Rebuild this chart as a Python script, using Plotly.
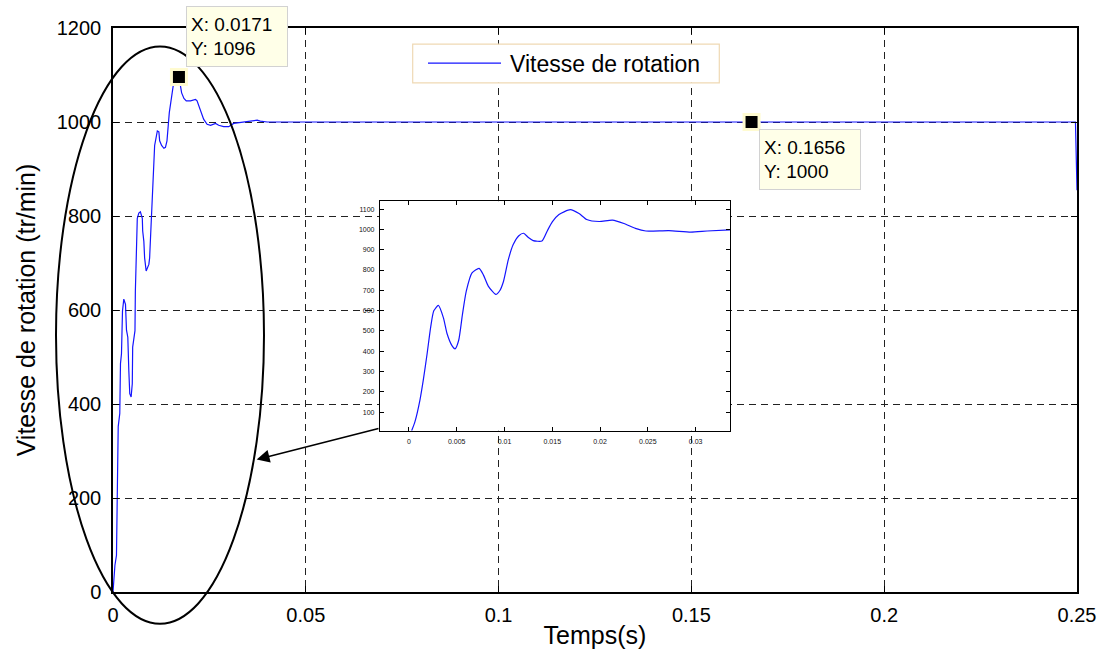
import plotly.graph_objects as go

# ---------------- data ----------------
# main curve: time (s) and speed (tr/min)
t_main = [0, 0.0005, 0.0009, 0.0011, 0.00125, 0.00135, 0.00176, 0.00194, 0.0022, 0.00246,
          0.0028, 0.00324, 0.0035, 0.00384, 0.0041, 0.00435, 0.0047, 0.005, 0.0051, 0.0057,
          0.0058, 0.006, 0.0063, 0.0067, 0.0071, 0.0076, 0.0077, 0.008, 0.0082, 0.0086,
          0.0093, 0.0095, 0.0097, 0.0102, 0.0104, 0.0108, 0.0115, 0.0119, 0.0121, 0.0126,
          0.0132, 0.0136, 0.014, 0.0143, 0.0146, 0.0151, 0.0153, 0.0156, 0.0171, 0.0175,
          0.0178, 0.0184, 0.019, 0.0201, 0.0214, 0.0218, 0.0223, 0.0227, 0.0235, 0.0244,
          0.0253, 0.0266, 0.0274, 0.0287, 0.03, 0.0313, 0.0339, 0.0361, 0.0374, 0.0382,
          0.04, 0.1656, 0.2496, 0.25]
v_main = [0, 57, 78, 198, 240, 352, 380, 486, 507, 598,
          623, 612, 557, 542, 472, 422, 415, 443, 521, 556,
          640, 711, 795, 806, 809, 795, 768, 746, 711, 683,
          697, 711, 753, 823, 893, 950, 981, 979, 960, 950,
          944, 946, 960, 992, 1020, 1048, 1062, 1076, 1096, 1076,
          1062, 1050, 1045, 1045, 1048, 1045, 1034, 1023, 1006, 995,
          993, 997, 993, 990, 990, 997, 1000, 1002, 1004, 1002,
          1000, 1000, 1000, 855]

# zoomed (inset) curve
t_zoom = [0.00028, 0.00063, 0.00115, 0.0015, 0.0019, 0.00227, 0.0026, 0.00308, 0.0036,
          0.004, 0.0045, 0.00483, 0.0052, 0.0056, 0.006, 0.0066, 0.00734, 0.0078, 0.0083,
          0.00909, 0.0095, 0.0099, 0.0104, 0.0109, 0.0115, 0.012, 0.0125, 0.013, 0.01392,
          0.0145, 0.015, 0.0157, 0.01689, 0.0178, 0.0186, 0.0199, 0.0213, 0.0225, 0.0237,
          0.0248, 0.0272, 0.0295, 0.0312, 0.0337]
v_zoom = [9, 54, 160, 258, 388, 518, 599, 626, 566,
          485, 428, 412, 453, 582, 696, 786, 808, 775, 721,
          680, 698, 745, 851, 924, 969, 981, 960, 945, 943,
          995, 1037, 1073, 1097, 1078, 1049, 1039, 1046, 1029, 1005,
          992, 994, 987, 992, 998]

# data tips
tip_x = [0.0171, 0.1656]
tip_y = [1096, 1000]

# ticks
main_xticks = [0, 0.05, 0.1, 0.15, 0.2, 0.25]
main_xlabels = ["0", "0.05", "0.1", "0.15", "0.2", "0.25"]
main_yticks = [0, 200, 400, 600, 800, 1000, 1200]
zoom_xticks = [0, 0.005, 0.01, 0.015, 0.02, 0.025, 0.03]
zoom_xlabels = ["0", "0.005", "0.01", "0.015", "0.02", "0.025", "0.03"]
zoom_yticks = [100, 200, 300, 400, 500, 600, 700, 800, 900, 1000, 1100]

# ---------------- layout helpers ----------------
W, H = 1108, 657
L, R, T, B = 113, 31, 28, 60
PW, PH = W - L - R, H - T - B


def px(xp):
    return (xp - L) / PW


def py(yp):
    return (H - B - yp) / PH


FONT = "Liberation Sans, Arial, sans-serif"
BLUE = "#1414ff"

fig = go.Figure()

fig.add_trace(go.Scatter(x=t_main, y=v_main, mode="lines", name="Vitesse de rotation",
                         line=dict(color=BLUE, width=1.2), xaxis="x", yaxis="y",
                         showlegend=False))
fig.add_trace(go.Scatter(x=tip_x, y=tip_y, mode="markers", showlegend=False,
                         marker=dict(symbol="square", size=15, color="black",
                                     line=dict(color="#fffbd0", width=3)),
                         xaxis="x", yaxis="y"))
fig.add_trace(go.Scatter(x=t_zoom, y=v_zoom, mode="lines", showlegend=False,
                         line=dict(color=BLUE, width=1.2, shape="spline", smoothing=0.6),
                         xaxis="x2", yaxis="y2"))

axis_common = dict(showline=True, linecolor="black", mirror="ticks", ticks="inside",
                   tickcolor="black", zeroline=False)

fig.update_layout(
    width=W, height=H,
    margin=dict(l=L, r=R, t=T, b=B, pad=0),
    paper_bgcolor="white", plot_bgcolor="white",
    font=dict(family=FONT, color="black"),
    xaxis=dict(domain=[0, 1], range=[0, 0.25], tickvals=main_xticks, ticktext=main_xlabels,
               showgrid=True, gridcolor="#222", gridwidth=1, griddash="7px,5px",
               linewidth=1.5, ticklen=6, tickfont=dict(size=20, family=FONT),
               ticklabelstandoff=4,
               title=dict(text="Temps(s)", font=dict(size=25, family=FONT), standoff=2),
               **axis_common),
    yaxis=dict(domain=[0, 1], range=[0, 1200], tickvals=main_yticks,
               showgrid=True, gridcolor="#222", gridwidth=1, griddash="7px,5px",
               linewidth=1.5, ticklen=6, tickfont=dict(size=20, family=FONT),
               ticklabelstandoff=6,
               title=dict(text="Vitesse de rotation (tr/min)", font=dict(size=25, family=FONT),
                          standoff=14),
               **axis_common),
    xaxis2=dict(domain=[px(380), px(730)], range=[-0.00303, 0.0336], anchor="y2",
                tickvals=zoom_xticks, ticktext=zoom_xlabels, showgrid=False,
                linewidth=1.2, ticklen=4, tickfont=dict(size=7, color="#111", family=FONT),
                ticklabelstandoff=4, **axis_common),
    yaxis2=dict(domain=[py(434.3), py(202.7)], range=[9, 1139], anchor="x2",
                tickvals=zoom_yticks, showgrid=False,
                linewidth=1.2, ticklen=4, tickfont=dict(size=7, color="#111", family=FONT),
                ticklabelstandoff=3, **axis_common),
    showlegend=False,
    hovermode=False,
)

# legend (drawn manually)
fig.add_shape(type="rect", xref="paper", yref="paper", x0=px(412.7), x1=px(719.3),
              y0=py(83.3), y1=py(44.3), fillcolor="white",
              line=dict(color="#efd9b4", width=1.2), layer="above")
fig.add_shape(type="line", xref="paper", yref="paper", x0=px(428), x1=px(501),
              y0=py(63.5), y1=py(63.5), line=dict(color=BLUE, width=1.2), layer="above")
fig.add_annotation(xref="paper", yref="paper", x=px(508), y=py(64), xanchor="left",
                   yanchor="middle", text="Vitesse de rotation", showarrow=False,
                   font=dict(size=23, family=FONT, color="black"))

# ellipse around the transient
fig.add_shape(type="circle", xref="paper", yref="paper", x0=px(56), x1=px(264),
              y0=py(629), y1=py(46.7), line=dict(color="black", width=2), layer="above")

# arrow from inset to ellipse
fig.add_annotation(xref="paper", yref="paper", x=px(256.7), y=py(463.3), text="",
                   showarrow=True, axref="pixel", ayref="pixel", ax=380 - 256.7,
                   ay=432 - 463.3, arrowhead=2, arrowsize=1.6, arrowwidth=1.6,
                   arrowcolor="black", standoff=0, startstandoff=0)

# data tips
tip_boxes = [(185.7, 6.0), (759.3, 130.0)]
for (bx, by), xv, yv in zip(tip_boxes, tip_x, tip_y):
    fig.add_annotation(xref="paper", yref="paper", x=px(bx), y=py(by), xanchor="left",
                       yanchor="top", text=f"X: {xv}<br>Y: {yv}", showarrow=False,
                       align="left", width=92, height=51, borderpad=4,
                       bgcolor="#ffffe8", bordercolor="#d2d2d2", borderwidth=1,
                       font=dict(size=19, family=FONT, color="black"))

fig.write_html("out.html")
